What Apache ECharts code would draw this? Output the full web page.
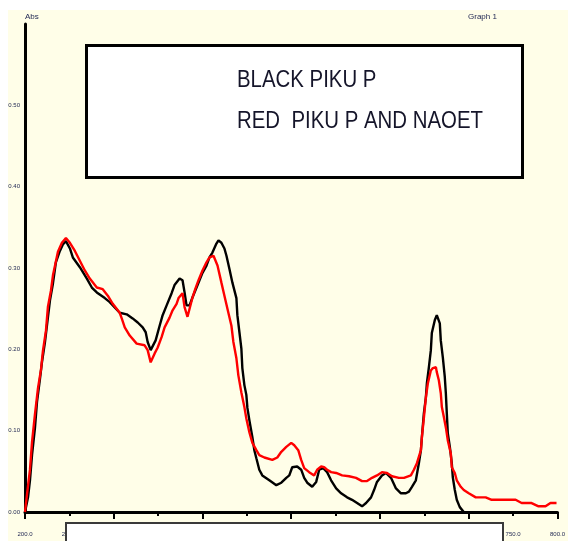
<!DOCTYPE html>
<html>
<head>
<meta charset="utf-8">
<title>Absorption spectra</title>
<script src="https://cdn.jsdelivr.net/npm/echarts@6.0.0/dist/echarts.min.js"></script>
<style>
  html, body { margin: 0; padding: 0; background: #ffffff; }
  #chart { width: 568px; height: 541px; }
</style>
</head>
<body>
<div id="chart"></div>
<script>
// Spectrum 1 (black): PIKU P
const wavelengthBlack = [
  200, 203.4, 205.6, 207.9, 211.2, 213.5, 216.9, 219.1, 222.5, 225.8,
  228.1, 231.5, 234.8, 239.3, 242.7, 246.1, 250.6, 253.9, 261.8, 269.7,
  275.3, 280.9, 289.9, 295.5, 306.7, 314.6, 321.3, 327.0, 332.6, 336.0,
  338.2, 341.6, 343.8, 347.2, 351.7, 355.1, 359.6, 365.2, 368.5, 374.2,
  377.5, 379.8, 382.0, 385.4, 388.8, 393.3, 396.6, 400.0, 404.5, 407.9,
  411.2, 415.7, 418.0, 421.3, 424.7, 427.0, 430.3, 433.7, 438.2, 439.3,
  441.6, 443.8, 444.9, 447.2, 449.4, 450.6, 452.8, 456.2, 458.4, 460.7,
  464.0, 467.4, 475.3, 483.2, 488.8, 494.4, 497.8, 501.1, 506.7, 511.2,
  514.6, 518.0, 523.6, 528.1, 531.5, 536.0, 540.4, 544.9, 550.6, 556.2,
  562.9, 568.5, 574.2, 579.8, 584.3, 589.9, 593.3, 596.6, 602.2, 606.7,
  612.4, 618.0, 623.6, 629.2, 632.6, 636.0, 640.4, 643.8, 646.1, 647.2,
  649.4, 651.7, 652.8, 655.1, 657.3, 658.4, 661.8, 664.0, 665.2, 667.4,
  668.5, 670.8, 673.0, 674.2, 675.3, 676.4, 678.7, 680.9, 682.0, 684.3,
  686.5, 689.9, 694.4
];
const absBlack = [
  0.000, 0.018, 0.039, 0.070, 0.103, 0.135, 0.164, 0.184, 0.209, 0.239,
  0.260, 0.281, 0.307, 0.321, 0.329, 0.333, 0.324, 0.313, 0.301, 0.287,
  0.276, 0.270, 0.263, 0.258, 0.245, 0.243, 0.238, 0.233, 0.227, 0.221,
  0.209, 0.199, 0.199, 0.211, 0.229, 0.242, 0.254, 0.269, 0.279, 0.287,
  0.285, 0.270, 0.254, 0.254, 0.264, 0.276, 0.285, 0.294, 0.303, 0.313,
  0.319, 0.330, 0.334, 0.331, 0.324, 0.315, 0.299, 0.282, 0.263, 0.242,
  0.221, 0.201, 0.177, 0.156, 0.144, 0.128, 0.113, 0.092, 0.076, 0.066,
  0.052, 0.045, 0.039, 0.033, 0.036, 0.042, 0.045, 0.055, 0.056, 0.052,
  0.042, 0.036, 0.031, 0.037, 0.052, 0.054, 0.049, 0.039, 0.029, 0.023,
  0.018, 0.015, 0.011, 0.007, 0.011, 0.018, 0.027, 0.037, 0.045, 0.048,
  0.042, 0.029, 0.023, 0.023, 0.025, 0.031, 0.039, 0.060, 0.076, 0.092,
  0.121, 0.141, 0.158, 0.178, 0.199, 0.220, 0.236, 0.242, 0.242, 0.232,
  0.211, 0.190, 0.166, 0.146, 0.121, 0.097, 0.080, 0.060, 0.043, 0.027,
  0.015, 0.006, 0.000
];

// Spectrum 2 (red): PIKU P with NaOEt
const wavelengthRed = [
  200, 202.2, 205.6, 207.9, 211.2, 214.6, 218.0, 220.2, 223.6, 225.8,
  229.2, 231.5, 234.8, 237.1, 241.6, 246.1, 250.6, 256.2, 261.8, 267.4,
  273.0, 280.9, 287.6, 293.3, 298.9, 306.7, 309.0, 312.4, 318.0, 325.8,
  334.8, 338.2, 341.6, 346.1, 349.4, 353.9, 357.3, 362.9, 366.3, 370.8,
  373.0, 377.5, 379.8, 383.1, 388.8, 392.1, 395.5, 400.0, 404.5, 407.9,
  412.4, 414.6, 416.9, 421.3, 424.7, 428.1, 432.6, 434.8, 438.2, 440.4,
  443.8, 447.2, 449.4, 452.8, 456.2, 460.7, 464.0, 469.7, 478.7, 484.3,
  488.8, 494.4, 500.0, 503.4, 507.9, 511.2, 514.6, 520.2, 525.8, 529.2,
  533.7, 537.1, 540.4, 544.9, 550.6, 557.3, 565.2, 573.0, 579.8, 585.4,
  591.0, 596.6, 602.2, 607.9, 613.5, 621.3, 627.0, 634.8, 638.2, 641.6,
  646.1, 647.2, 649.4, 651.7, 653.9, 657.3, 659.6, 663.0, 664.0, 666.3,
  668.5, 669.7, 671.9, 674.2, 676.4, 679.8, 680.9, 684.3, 686.5, 691.0,
  694.4, 700.0, 707.9, 719.1, 725.8, 741.6, 752.8, 759.6, 770.8, 778.7,
  786.5, 792.1, 798.9
];
const absRed = [
  0.000, 0.021, 0.052, 0.086, 0.120, 0.152, 0.175, 0.198, 0.223, 0.252,
  0.272, 0.291, 0.308, 0.320, 0.331, 0.337, 0.331, 0.321, 0.309, 0.297,
  0.287, 0.276, 0.274, 0.266, 0.256, 0.245, 0.238, 0.227, 0.217, 0.207,
  0.205, 0.199, 0.184, 0.195, 0.202, 0.215, 0.227, 0.239, 0.248, 0.256,
  0.263, 0.269, 0.252, 0.240, 0.264, 0.275, 0.285, 0.297, 0.307, 0.313,
  0.315, 0.313, 0.303, 0.282, 0.266, 0.250, 0.229, 0.209, 0.189, 0.168,
  0.147, 0.129, 0.115, 0.098, 0.085, 0.076, 0.070, 0.067, 0.064, 0.067,
  0.074, 0.080, 0.085, 0.082, 0.076, 0.064, 0.054, 0.049, 0.045, 0.052,
  0.056, 0.055, 0.052, 0.049, 0.048, 0.045, 0.044, 0.042, 0.038, 0.038,
  0.042, 0.045, 0.049, 0.048, 0.044, 0.042, 0.042, 0.045, 0.052, 0.060,
  0.076, 0.092, 0.115, 0.141, 0.158, 0.174, 0.177, 0.178, 0.172, 0.162,
  0.146, 0.129, 0.117, 0.104, 0.088, 0.072, 0.055, 0.048, 0.039, 0.031,
  0.027, 0.023, 0.018, 0.018, 0.015, 0.015, 0.015, 0.011, 0.011, 0.007,
  0.007, 0.011, 0.011
];

// Axis ranges and tick steps
const xRange = [200, 800];
const xStep = 50;
const xMajorStep = 100;
const yRange = [0, 0.6];
const yStep = 0.1;

// Caption lines
const captionLines = ['BLACK PIKU P', 'RED  PIKU P AND NAOET'];
const yAxisTitle = 'Abs';
const graphTitle = 'Graph 1';

const pairs = (xs, ys) => xs.map((x, i) => [x, ys[i]]);

const chart = echarts.init(document.getElementById('chart'), null, { renderer: 'canvas' });

const tinyLabel = { fontSize: 6, color: '#1d2450', fontFamily: 'Liberation Sans' };

chart.setOption({
  animation: false,
  backgroundColor: '#ffffff',
  grid: { left: 25, right: 9, top: 24, bottom: 29, containLabel: false },
  xAxis: [
    {
      type: 'value',
      min: xRange[0], max: xRange[1], interval: xStep,
      axisLine: { show: true, onZero: false, lineStyle: { color: '#000', width: 3 } },
      axisTick: { show: true, length: 4, lineStyle: { color: '#000', width: 2 } },
      minorTick: { show: true, splitNumber: 5, length: 2, lineStyle: { color: '#000', width: 2 } },
      axisLabel: Object.assign({ margin: 19, formatter: v => v.toFixed(1) }, tinyLabel),
      splitLine: { show: false }
    },
    {
      type: 'value',
      min: xRange[0], max: xRange[1], interval: xMajorStep,
      position: 'bottom',
      axisLine: { show: false, onZero: false },
      axisTick: { show: true, length: 7, lineStyle: { color: '#000', width: 2 } },
      axisLabel: { show: false },
      splitLine: { show: false }
    }
  ],
  yAxis: {
    type: 'value',
    min: yRange[0], max: yRange[1], interval: yStep,
    name: yAxisTitle,
    nameLocation: 'end',
    nameGap: 3,
    nameTextStyle: { fontSize: 8, color: '#1d2450', align: 'left', fontFamily: 'Liberation Sans' },
    axisLine: { show: true, onZero: false, lineStyle: { color: '#000', width: 3 } },
    axisTick: { show: false },
    axisLabel: Object.assign({ margin: 5, showMaxLabel: false, formatter: v => v.toFixed(2) }, tinyLabel),
    splitLine: { show: false }
  },
  series: [
    {
      name: 'PIKU P',
      type: 'line',
      xAxisIndex: 0,
      data: pairs(wavelengthBlack, absBlack),
      showSymbol: false,
      lineStyle: { color: '#000000', width: 2.4 },
      z: 3
    },
    {
      name: 'PIKU P + NaOEt',
      type: 'line',
      xAxisIndex: 0,
      data: pairs(wavelengthRed, absRed),
      showSymbol: false,
      lineStyle: { color: '#ff0000', width: 2.4 },
      z: 4
    }
  ],
  graphic: [
    {
      type: 'rect', silent: true, z: -100,
      shape: { x: 8, y: 10, width: 560, height: 531 },
      style: { fill: '#fffee8' }
    },
    {
      type: 'rect', z: 50,
      shape: { x: 86.5, y: 45.5, width: 436, height: 132 },
      style: { fill: '#ffffff', stroke: '#000000', lineWidth: 3 }
    },
    {
      type: 'text', z: 51, x: 237, y: 80, scaleX: 0.85,
      style: { text: captionLines[0], fill: '#15152a', font: '24px "Liberation Sans"', verticalAlign: 'middle' }
    },
    {
      type: 'text', z: 51, x: 237, y: 121, scaleX: 0.85,
      style: { text: captionLines[1], fill: '#15152a', font: '24px "Liberation Sans"', verticalAlign: 'middle' }
    },
    {
      type: 'text', z: 51, x: 468, y: 13,
      style: { text: graphTitle, fill: '#1d2450', font: '8px "Liberation Sans"', verticalAlign: 'top' }
    },
    {
      type: 'rect', z: 100,
      shape: { x: 66, y: 523, width: 437, height: 30 },
      style: { fill: '#ffffff', stroke: '#3a3a3a', lineWidth: 2 }
    }
  ]
});
</script>
</body>
</html>
